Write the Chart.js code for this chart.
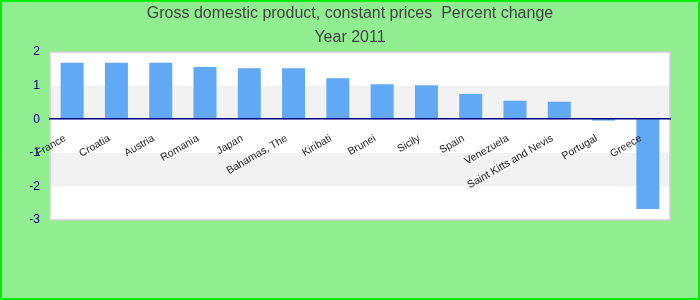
<!DOCTYPE html>
<html>
<head>
<meta charset="utf-8">
<script src="https://cdn.jsdelivr.net/npm/chart.js@4/dist/chart.umd.min.js"></script>
<style>
  html, body { margin: 0; padding: 0; background: #90ee90; }
  #wrap { width: 700px; height: 300px; }
</style>
</head>
<body>
<div id="wrap"><canvas id="gdpChart" width="700" height="300"></canvas></div>
<script>
const countries = ["France", "Croatia", "Austria", "Romania", "Japan", "Bahamas, The", "Kiribati",
  "Brunei", "Sicily", "Spain", "Venezuela", "Saint Kitts and Nevis", "Portugal", "Greece"];
const changes = [1.68, 1.68, 1.68, 1.55, 1.52, 1.52, 1.22, 1.04, 1.01, 0.75, 0.55, 0.52, -0.04, -2.67];
const titleLines = ["Gross domestic product, constant prices  Percent change", "Year 2011"];

// light grey band between these value pairs
const bands = [[1, 0], [-1, -2]];

const backdrop = {
  id: "backdrop",
  beforeDraw(chart) {
    const { ctx, chartArea: a, scales } = chart;
    ctx.save();
    ctx.fillStyle = "#90ee90";
    ctx.fillRect(0, 0, chart.width, chart.height);
    ctx.strokeStyle = "#00ee00";
    ctx.lineWidth = 2;
    ctx.strokeRect(1, 1, chart.width - 2, chart.height - 2);

    ctx.fillStyle = "#ffffff";
    ctx.fillRect(a.left, a.top, a.width, a.height);
    ctx.fillStyle = "#f2f2f2";
    bands.forEach(([hi, lo]) => {
      const y1 = scales.y.getPixelForValue(hi);
      const y2 = scales.y.getPixelForValue(lo);
      ctx.fillRect(a.left, y1, a.width, y2 - y1);
    });
    ctx.strokeStyle = "#d0d0d0";
    ctx.lineWidth = 1.5;
    ctx.strokeRect(a.left, a.top, a.width, a.height);
    ctx.restore();
  }
};

new Chart(document.getElementById("gdpChart"), {
  type: "bar",
  data: {
    labels: countries,
    datasets: [{
      data: changes,
      backgroundColor: "#61a8f5",
      borderWidth: 0,
      barPercentage: 0.52,
      categoryPercentage: 1
    }]
  },
  options: {
    responsive: false,
    animation: false,
    layout: { padding: { left: 0, right: 0, bottom: 80, top: 1 } },
    plugins: {
      legend: { display: false },
      tooltip: { enabled: false },
      title: {
        display: true,
        text: titleLines,
        color: "#444444",
        font: { family: "'Liberation Sans', Arial, sans-serif", size: 16, weight: "normal", lineHeight: 1.5 },
        padding: { top: 1, bottom: 2 }
      }
    },
    scales: {
      x: {
        position: { y: 0 },
        grid: { display: false },
        border: { display: true, color: "#000080", width: 1.5, z: 1 },
        ticks: {
          z: 1,
          autoSkip: false,
          minRotation: 30,
          maxRotation: 30,
          padding: 5,
          labelOffset: -7,
          color: "#1a1a1a",
          font: { family: "'Liberation Sans', Arial, sans-serif", size: 10.5 }
        }
      },
      y: {
        min: -3,
        max: 2,
        afterFit(scale) { scale.width = 50; },
        grid: { display: false, drawTicks: false },
        border: { display: false },
        ticks: {
          stepSize: 1,
          padding: 10,
          color: "#000080",
          font: { family: "'Liberation Sans', Arial, sans-serif", size: 12 }
        }
      },
      // empty right-hand margin so the title stays centred on the page
      spacer: {
        position: "right",
        afterFit(scale) { scale.width = 30; },
        grid: { display: false },
        border: { display: false },
        ticks: { display: false }
      }
    }
  },
  plugins: [backdrop]
});
</script>
</body>
</html>
